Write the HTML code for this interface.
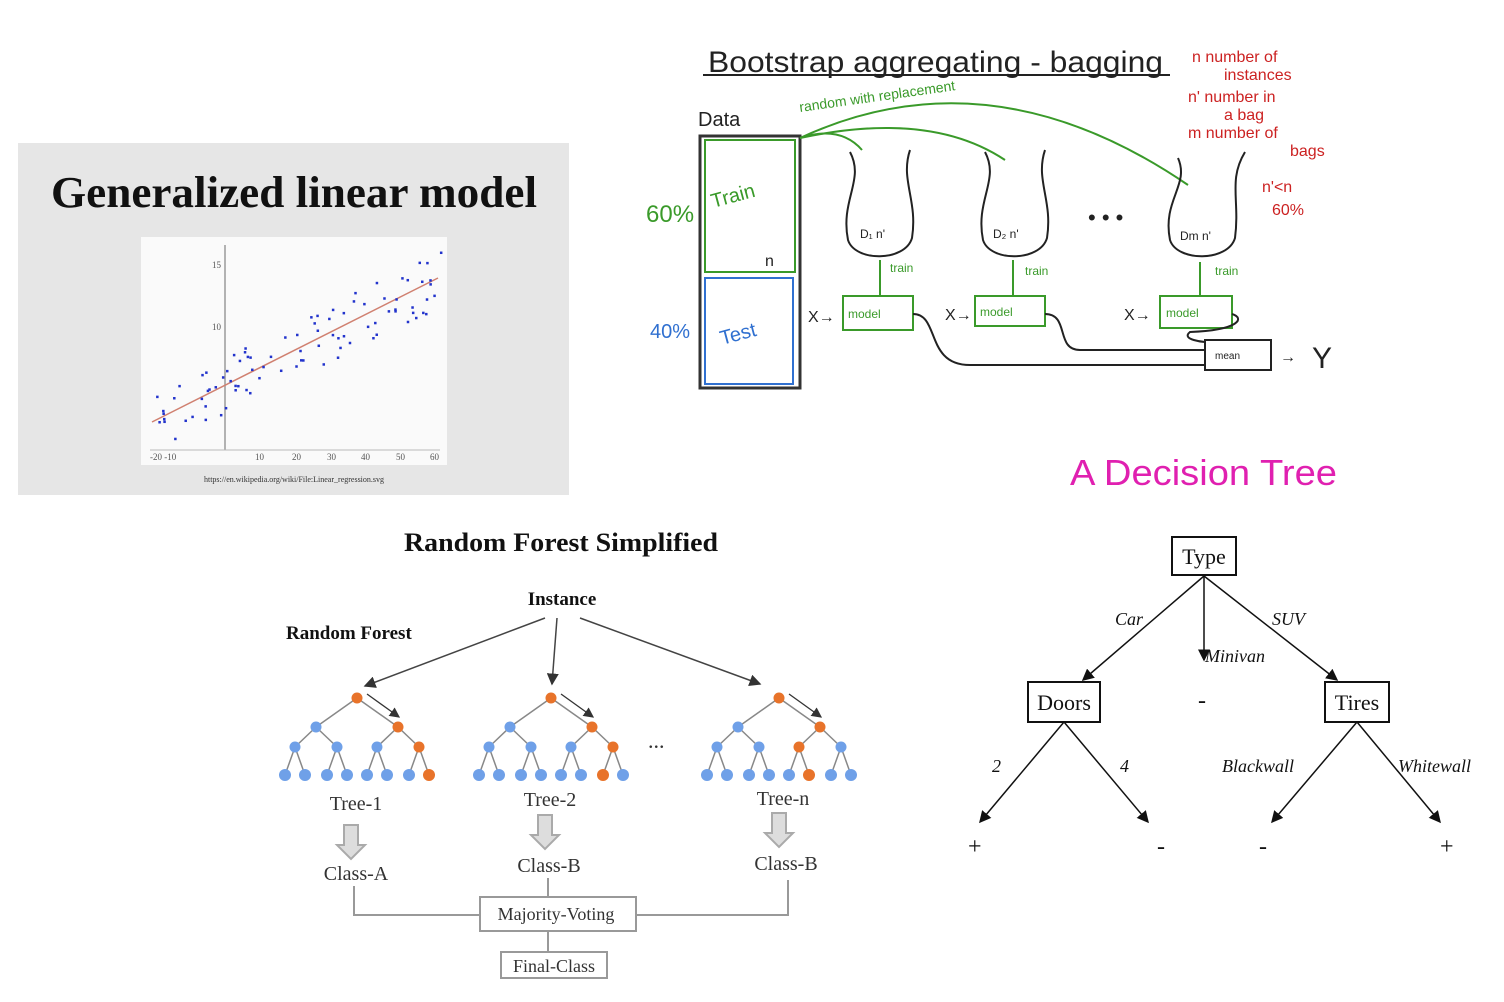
<!DOCTYPE html>
<html><head><meta charset="utf-8"><style>
html,body{margin:0;padding:0;background:#fff;width:1504px;height:1002px;overflow:hidden}
svg{display:block}
.hw{font-family:"Liberation Sans",sans-serif}
</style></head><body>
<svg id="s" width="1504" height="1002" xmlns="http://www.w3.org/2000/svg">
<rect x="18" y="143" width="551" height="352" fill="#e6e6e6"/>
<text x="294" y="207" text-anchor="middle" font-family="Liberation Serif,serif" font-weight="bold" font-size="44" textLength="486" lengthAdjust="spacingAndGlyphs" fill="#111">Generalized linear model</text>
<rect x="141" y="237" width="306" height="228" fill="#fafafa"/>
<line x1="225" y1="245" x2="225" y2="450" stroke="#999" stroke-width="1.5"/>
<line x1="150" y1="450" x2="440" y2="450" stroke="#bbb"/>
<line x1="152" y1="422" x2="438" y2="278" stroke="#d08070" stroke-width="1.5"/>
<g font-family="Liberation Serif,serif" font-size="9" fill="#555">
<text x="212" y="268">15</text><text x="212" y="330">10</text>
<text x="150" y="460">-20 -10</text><text x="255" y="460">10</text><text x="292" y="460">20</text><text x="327" y="460">30</text><text x="361" y="460">40</text><text x="396" y="460">50</text><text x="430" y="460">60</text>
<text x="294" y="482" text-anchor="middle" font-size="8" fill="#333">https://en.wikipedia.org/wiki/File:Linear_regression.svg</text>
</g>
<g id="dots" fill="#2233cc"></g>

<g class="hw">
<text x="708" y="72" font-size="30" fill="#222" textLength="455" lengthAdjust="spacingAndGlyphs">Bootstrap aggregating - bagging</text>
<line x1="703" y1="75" x2="1170" y2="75" stroke="#222" stroke-width="2"/>
<text x="800" y="112" font-size="14" fill="#3a9a2a" transform="rotate(-8 800 112)">random with replacement</text>
<text x="698" y="126" font-size="20" fill="#222">Data</text>
<g fill="#c22" font-size="16"><text x="1192" y="62">n  number of</text><text x="1224" y="80">instances</text><text x="1188" y="102">n'  number in</text><text x="1224" y="120">a bag</text><text x="1188" y="138">m  number of</text><text x="1290" y="156">bags</text><text x="1262" y="192">n'&lt;n</text><text x="1272" y="215">60%</text></g>
<rect x="700" y="136" width="100" height="252" fill="none" stroke="#333" stroke-width="3"/>
<rect x="705" y="140" width="90" height="132" fill="none" stroke="#3a9a2a" stroke-width="2"/>
<rect x="705" y="278" width="88" height="106" fill="none" stroke="#3070d0" stroke-width="2"/>
<text x="713" y="208" font-size="20" fill="#3a9a2a" transform="rotate(-15 713 208)">Train</text>
<text x="765" y="266" font-size="16" fill="#222">n</text>
<text x="722" y="345" font-size="20" fill="#3070d0" transform="rotate(-15 722 345)">Test</text>
<text x="646" y="222" font-size="24" fill="#3a9a2a">60%</text>
<text x="650" y="338" font-size="20" fill="#3070d0">40%</text>
<path d="M800 138 Q990 50 1188 185" fill="none" stroke="#3a9a2a" stroke-width="2"/>
<path d="M800 138 Q840 125 862 150" fill="none" stroke="#3a9a2a" stroke-width="2"/>
<path d="M800 138 Q930 110 1005 160" fill="none" stroke="#3a9a2a" stroke-width="2"/>
<g fill="none" stroke="#222" stroke-width="2">
<path d="M850 152 C865 180 840 200 848 240 C855 262 905 262 912 238 C918 200 900 180 910 150"/>
<path d="M985 152 C1000 180 975 200 983 240 C990 262 1040 262 1047 238 C1053 200 1035 180 1045 150"/>
<path d="M1178 158 C1190 185 1162 200 1170 240 C1177 262 1228 262 1235 238 C1240 200 1228 180 1245 152"/>
</g>
<g font-size="12" fill="#222"><text x="860" y="238">D₁ n'</text><text x="993" y="238">D₂ n'</text><text x="1180" y="240">Dm n'</text></g>
<text x="1088" y="225" font-size="22" fill="#222">• • •</text>
<g stroke="#3a9a2a" stroke-width="2" fill="none">
<line x1="880" y1="260" x2="880" y2="295"/><line x1="1013" y1="260" x2="1013" y2="295"/><line x1="1200" y1="262" x2="1200" y2="295"/>
<rect x="843" y="296" width="70" height="34"/><rect x="975" y="296" width="70" height="30"/><rect x="1160" y="296" width="72" height="32"/>
</g>
<g font-size="12" fill="#3a9a2a"><text x="890" y="272">train</text><text x="1025" y="275">train</text><text x="1215" y="275">train</text>
<text x="848" y="318">model</text><text x="980" y="316">model</text><text x="1166" y="317">model</text></g>
<g font-size="16" fill="#222"><text x="808" y="322">X→</text><text x="945" y="320">X→</text><text x="1124" y="320">X→</text><text x="1280" y="362">→</text><text x="1312" y="368" font-size="30">Y</text></g>
<g fill="none" stroke="#222" stroke-width="2">
<path d="M913 314 C940 314 925 365 970 365 L1205 365"/><path d="M1045 314 C1070 314 1055 350 1080 350 L1205 350"/><path d="M1232 314 C1245 318 1240 330 1190 332 C1180 340 1205 342 1205 342"/>
<rect x="1205" y="340" width="66" height="30"/></g>
<text x="1215" y="359" font-size="10" fill="#222">mean</text>
</g>

<text x="1070" y="485" font-family="Liberation Sans,sans-serif" font-size="36" textLength="267" lengthAdjust="spacingAndGlyphs" fill="#e020b0">A Decision Tree</text>
<g font-family="Liberation Serif,serif" font-size="22" fill="#111">
<rect x="1172" y="537" width="64" height="38" fill="none" stroke="#111" stroke-width="2"/><text x="1204" y="564" text-anchor="middle">Type</text>
<rect x="1028" y="682" width="72" height="40" fill="none" stroke="#111" stroke-width="2"/><text x="1064" y="710" text-anchor="middle">Doors</text>
<rect x="1325" y="682" width="64" height="40" fill="none" stroke="#111" stroke-width="2"/><text x="1357" y="710" text-anchor="middle">Tires</text>
<g font-style="italic" font-size="18"><text x="1115" y="625">Car</text><text x="1272" y="625">SUV</text><text x="1205" y="662">Minivan</text><text x="992" y="772">2</text><text x="1120" y="772">4</text><text x="1222" y="772">Blackwall</text><text x="1398" y="772">Whitewall</text></g>
<g font-size="24"><text x="968" y="854">+</text><text x="1157" y="854">-</text><text x="1198" y="708">-</text><text x="1259" y="854">-</text><text x="1440" y="854">+</text></g>
</g>
<defs><marker id="a" markerWidth="8" markerHeight="8" refX="7" refY="4" orient="auto"><path d="M0 0L8 4L0 8z" fill="#111"/></marker>
<marker id="g" markerWidth="8" markerHeight="8" refX="7" refY="4" orient="auto"><path d="M0 0L8 4L0 8z" fill="#333"/></marker></defs>
<g stroke="#111" stroke-width="1.5" marker-end="url(#a)">
<line x1="1204" y1="576" x2="1083" y2="680"/><line x1="1204" y1="576" x2="1204" y2="660"/><line x1="1204" y1="576" x2="1337" y2="680"/>
<line x1="1064" y1="722" x2="980" y2="822"/><line x1="1064" y1="722" x2="1148" y2="822"/>
<line x1="1357" y1="722" x2="1272" y2="822"/><line x1="1357" y1="722" x2="1440" y2="822"/>
</g>

<g font-family="Liberation Serif,serif" fill="#111">
<text x="561" y="551" text-anchor="middle" font-weight="bold" font-size="26" textLength="314" lengthAdjust="spacingAndGlyphs">Random Forest Simplified</text>
<text x="562" y="605" text-anchor="middle" font-weight="bold" font-size="19">Instance</text>
<text x="286" y="639" font-weight="bold" font-size="19">Random Forest</text>
<g font-size="20" fill="#333" text-anchor="middle"><text x="356" y="810">Tree-1</text><text x="550" y="806">Tree-2</text><text x="783" y="805">Tree-n</text>
<text x="356" y="880">Class-A</text><text x="549" y="872">Class-B</text><text x="786" y="870">Class-B</text>
<text x="556" y="920" font-size="18">Majority-Voting</text><text x="554" y="972" font-size="18">Final-Class</text></g>
<text x="648" y="748" font-size="22" fill="#333">...</text>
</g>
<g stroke="#444" stroke-width="1.5" marker-end="url(#g)">
<line x1="545" y1="618" x2="365" y2="686"/><line x1="557" y1="618" x2="552" y2="684"/><line x1="580" y1="618" x2="760" y2="684"/>
</g>
<g fill="none" stroke="#999" stroke-width="2">
<rect x="480" y="897" width="156" height="34"/><rect x="501" y="952" width="106" height="26"/>
<path d="M354 886 V915 H480 M636 915 H788 V880 M548 878 V897 M548 931 V952"/>
</g>
<g fill="#ddd" stroke="#aaa" stroke-width="2"><path d="M344 825h14v20h7l-14 14-14-14h7z"/><path d="M538 815h14v20h7l-14 14-14-14h7z"/><path d="M772 813h14v20h7l-14 14-14-14h7z"/></g>
<g id="trees"></g>
</svg>
<script>
const ns="http://www.w3.org/2000/svg";
function el(p,t,a){const e=document.createElementNS(ns,t);for(const k in a)e.setAttribute(k,a[k]);p.appendChild(e);return e;}
const d=document.getElementById('dots');
let seed=3;function r(){seed=(seed*9301+49297)%233280;return seed/233280;}
for(let i=0;i<90;i++){const x=155+r()*285;const y=422-(x-152)*0.5+(r()-0.5)*60;el(d,'rect',{x:x,y:y,width:2.5,height:2.5});}
const T=document.getElementById('trees');
function tree(cx,orange){
 const ys=[698,727,747,775];
 const L=[[cx],[cx-41,cx+41],[cx-62,cx-20,cx+20,cx+62],[]];
 L[2].forEach(x=>{L[3].push(x-10,x+10)});
 for(let l=0;l<3;l++)L[l].forEach((x,i)=>{el(T,'line',{x1:x,y1:ys[l],x2:L[l+1][2*i],y2:ys[l+1],stroke:'#888','stroke-width':1.5});el(T,'line',{x1:x,y1:ys[l],x2:L[l+1][2*i+1],y2:ys[l+1],stroke:'#888','stroke-width':1.5});});
 L.forEach((row,l)=>row.forEach((x,i)=>{const o=orange[l]===i;el(T,'circle',{cx:x,cy:ys[l],r:l==3?6:5.5,fill:o?'#e8732a':'#6fa0e8'});}));
 el(T,'line',{x1:cx+10,y1:ys[0]-4,x2:cx+42,y2:ys[1]-10,stroke:'#333','stroke-width':1.3,'marker-end':'url(#g)'});
}
tree(357,{0:0,1:1,2:3,3:7});
tree(551,{0:0,1:1,2:3,3:6});
tree(779,{0:0,1:1,2:2,3:5});
</script>
</body></html>
